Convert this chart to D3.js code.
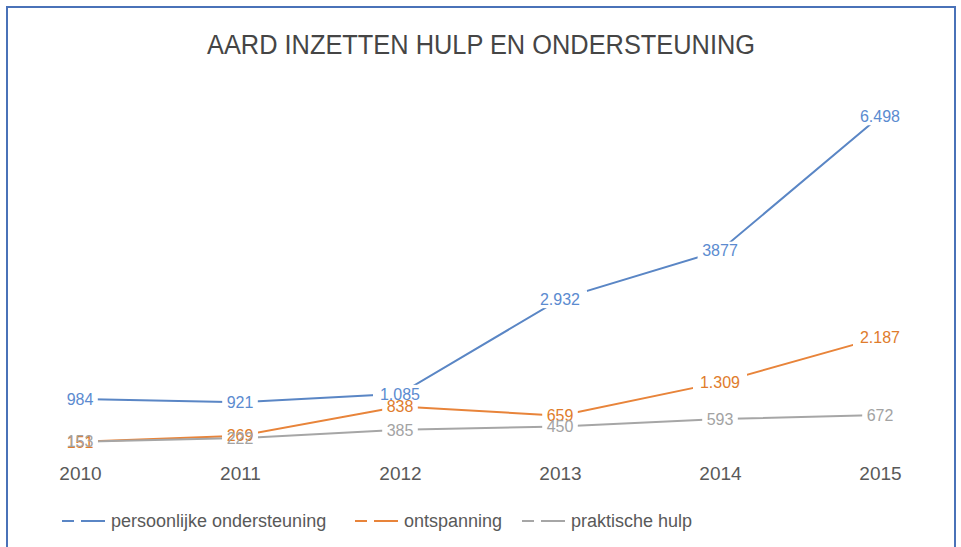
<!DOCTYPE html>
<html>
<head>
<meta charset="utf-8">
<script src="https://cdn.jsdelivr.net/npm/d3@7"></script>
<style>
  html, body { margin: 0; padding: 0; background: #fff; }
  svg { display: block; }
</style>
</head>
<body>
<svg id="chart"></svg>
<script>
const years = ['2010', '2011', '2012', '2013', '2014', '2015'];
const persoonlijk = [984, 921, 1085, 2932, 3877, 6498];
const ontspanning = [151, 269, 838, 659, 1309, 2187];
const praktisch = [153, 222, 385, 450, 593, 672];
const labelsPersoonlijk = ['984', '921', '1.085', '2.932', '3877', '6.498'];
const labelsOntspanning = ['151', '269', '838', '659', '1.309', '2.187'];
const labelsPraktisch = ['153', '222', '385', '450', '593', '672'];

const series = [
    { name: 'persoonlijke ondersteuning', values: persoonlijk, labels: labelsPersoonlijk, line: '#5a86c5', text: '#5b8bd0' },
    { name: 'ontspanning', values: ontspanning, labels: labelsOntspanning, line: '#e8843a', text: '#e07c2c' },
    { name: 'praktische hulp', values: praktisch, labels: labelsPraktisch, line: '#a6a6a6', text: '#a3a3a3' }
];

const W = 961, H = 547;
const font = '"Liberation Sans Narrow", "Arial Narrow", "Liberation Sans", sans-serif';

const svg = d3.select('#chart').attr('width', W).attr('height', H);

svg.append('rect').attr('width', W).attr('height', H).attr('fill', '#fff');

// frame
svg.append('rect')
    .attr('x', 7).attr('y', 7).attr('width', 948).attr('height', 580)
    .attr('fill', 'none').attr('stroke', '#4a72b8').attr('stroke-width', 2);

// Title
svg.append('text')
    .attr('x', 481).attr('y', 54)
    .attr('text-anchor', 'middle')
    .attr('font-family', font)
    .attr('font-size', '27px')
    .attr('fill', '#454545')
    .attr('textLength', 548)
    .attr('lengthAdjust', 'spacingAndGlyphs')
    .text('AARD INZETTEN HULP EN ONDERSTEUNING');

const x = d3.scalePoint().domain(years).range([80, 880]);
const y = d3.scaleLinear().domain([0, 7000]).range([449.5, 90.5]);

// X axis labels only
const xAxis = svg.append('g')
    .attr('transform', 'translate(0,466)')
    .call(d3.axisBottom(x).tickSize(0).tickPadding(0));
xAxis.select('.domain').remove();
xAxis.selectAll('text')
    .attr('font-family', font)
    .attr('font-size', '19px')
    .attr('fill', '#595959')
    .attr('dy', '0.71em');

const line = d3.line()
    .x((d, i) => x(years[i]))
    .y(d => y(d));

series.forEach(s => {
    svg.append('path')
        .datum(s.values)
        .attr('fill', 'none')
        .attr('stroke', s.line)
        .attr('stroke-width', 2)
        .attr('d', line);
});

// white boxes behind data labels
const labelFont = '16px';
series.forEach(s => {
    svg.append('g').selectAll('rect')
        .data(s.values)
        .join('rect')
        .attr('x', (d, i) => x(years[i]) - s.labels[i].length * 4.6 - 4)
        .attr('y', d => y(d) - 9)
        .attr('width', (d, i) => s.labels[i].length * 9.2 + 8)
        .attr('height', 18)
        .attr('fill', '#fff');
});

series.forEach(s => {
    svg.append('g').selectAll('text')
        .data(s.values)
        .join('text')
        .attr('x', (d, i) => x(years[i]))
        .attr('y', d => y(d))
        .attr('dy', '0.36em')
        .attr('text-anchor', 'middle')
        .attr('font-family', font)
        .attr('font-size', labelFont)
        .attr('fill', s.text)
        .text((d, i) => s.labels[i]);
});

// Legend
const legendX = [62, 355, 522];
series.forEach((s, i) => {
    const g = svg.append('g').attr('transform', `translate(${legendX[i]},521)`);
    g.append('line').attr('x1', 0).attr('x2', 12).attr('y1', 0).attr('y2', 0)
        .attr('stroke', s.line).attr('stroke-width', 2);
    g.append('line').attr('x1', 19).attr('x2', 43).attr('y1', 0).attr('y2', 0)
        .attr('stroke', s.line).attr('stroke-width', 2);
    g.append('text')
        .attr('x', 49).attr('y', 0).attr('dy', '0.35em')
        .attr('font-family', font)
        .attr('font-size', '18px')
        .attr('fill', '#595959')
        .text(s.name);
});
</script>
</body>
</html>
